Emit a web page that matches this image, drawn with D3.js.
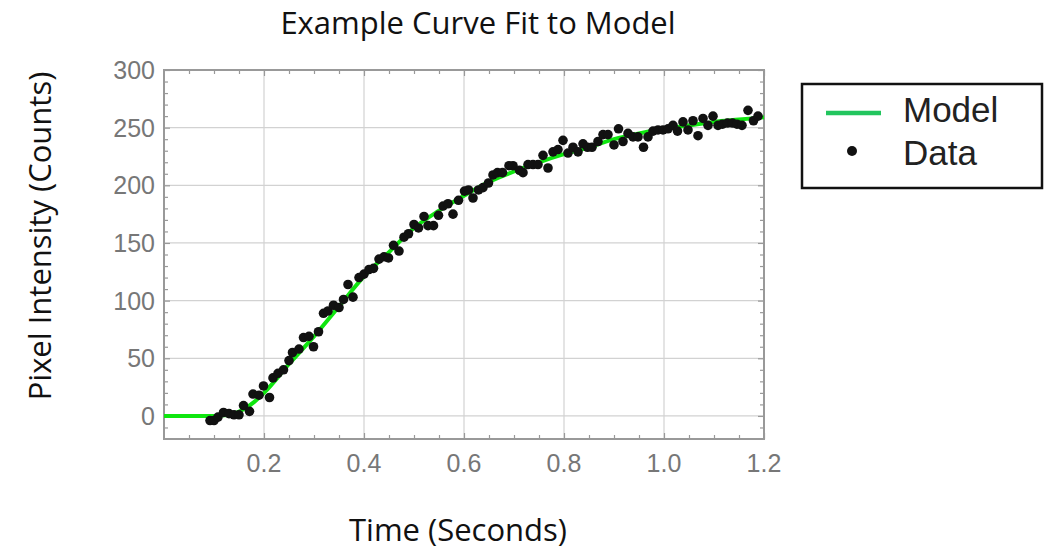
<!DOCTYPE html>
<html>
<head>
<meta charset="utf-8">
<script src="https://cdn.jsdelivr.net/npm/d3@7"></script>
<style>
  body { margin: 0; background: #fff; }
  #chart-container { width: 1048px; height: 550px; }
</style>
</head>
<body>
<div id="chart-container"></div>
<script>
// Data
const dataTimes = [
  0.092, 0.100, 0.108, 0.119, 0.130, 0.140, 0.150, 0.159, 0.171, 0.178,
  0.190, 0.199, 0.211, 0.218, 0.228, 0.239, 0.250, 0.257, 0.270, 0.279,
  0.290, 0.299, 0.309, 0.319, 0.328, 0.339, 0.350, 0.359, 0.368, 0.378,
  0.390, 0.400, 0.410, 0.419, 0.430, 0.440, 0.449, 0.459, 0.470, 0.480,
  0.489, 0.500, 0.509, 0.520, 0.528, 0.539, 0.549, 0.558, 0.568, 0.578,
  0.589, 0.601, 0.609, 0.618, 0.629, 0.638, 0.649, 0.658, 0.667, 0.677,
  0.690, 0.698, 0.711, 0.718, 0.728, 0.738, 0.748, 0.758, 0.768, 0.778,
  0.788, 0.798, 0.808, 0.818, 0.828, 0.838, 0.847, 0.856, 0.868, 0.878,
  0.888, 0.900, 0.909, 0.918, 0.928, 0.938, 0.948, 0.959, 0.968, 0.978,
  0.988, 0.998, 1.008, 1.018, 1.027, 1.038, 1.048, 1.058, 1.068, 1.078,
  1.088, 1.098, 1.108, 1.117, 1.127, 1.137, 1.146, 1.156, 1.168, 1.179,
  1.188
];
const dataIntensity = [
  -4, -4, -1, 3, 2, 1, 1, 9, 4, 19,
  18, 26, 16, 33, 37, 40, 48, 55, 58, 68,
  69, 60, 73, 89, 91, 96, 94, 101, 114, 103,
  120, 123, 127, 128, 136, 138, 137, 148, 143, 155,
  158, 166, 163, 173, 165, 165, 174, 182, 184, 175,
  187, 195, 196, 189, 196, 198, 202, 209, 211, 211,
  217, 217, 213, 211, 218, 218, 218, 226, 215, 229,
  231, 239, 228, 233, 229, 236, 233, 233, 238, 244,
  244, 235, 249, 238, 245, 242, 242, 233, 242, 247,
  248, 248, 249, 252, 247, 255, 248, 256, 243, 258,
  252, 260, 252, 253, 254, 254, 253, 252, 265, 256,
  260
];

// Model curve, read at intervals along the green line
const modelTimes = [
  0, 0.1, 0.12, 0.14, 0.16, 0.18, 0.2, 0.25, 0.3, 0.35, 0.4, 0.45, 0.5,
  0.55, 0.6, 0.65, 0.7, 0.75, 0.8, 0.85, 0.9, 0.95, 1.0, 1.05, 1.1, 1.15, 1.2
];
const modelValues = [
  0, 0, 0.5, 2, 6, 12, 20, 45, 69, 95, 121, 142, 163,
  178, 191, 203, 212, 220, 227, 233, 240, 245, 249, 252, 255, 257, 259
];

// Tick labels
const xTicks = [0.2, 0.4, 0.6, 0.8, 1.0, 1.2];
const yTicks = [0, 50, 100, 150, 200, 250, 300];
const legendLabels = ["Model", "Data"];

//******************************************************************************************** */
// Dimensions
const width = 1048;
const height = 550;
const plot = { left: 164, right: 764, top: 70, bottom: 439 };

const svg = d3
  .select("#chart-container")
  .append("svg")
  .attr("width", width)
  .attr("height", height);

// Scales
const xScale = d3.scaleLinear().domain([0, 1.2]).range([plot.left, plot.right]);
const yScale = d3.scaleLinear().domain([-20, 300]).range([plot.bottom, plot.top]);

const frameColor = "#999";
const labelColor = "#777";

//******************************************************************************************** */
// Grid lines
const gridX = xTicks.filter((t) => t < 1.2);
const gridY = yTicks.filter((t) => t < 300);

svg.append("g")
  .selectAll("line")
  .data(gridX)
  .enter()
  .append("line")
  .attr("x1", (d) => xScale(d))
  .attr("x2", (d) => xScale(d))
  .attr("y1", plot.top)
  .attr("y2", plot.bottom)
  .attr("stroke", "#d2d2d2")
  .attr("stroke-width", 1.2);

svg.append("g")
  .selectAll("line")
  .data(gridY)
  .enter()
  .append("line")
  .attr("x1", plot.left)
  .attr("x2", plot.right)
  .attr("y1", (d) => yScale(d))
  .attr("y2", (d) => yScale(d))
  .attr("stroke", "#d2d2d2")
  .attr("stroke-width", 1.2);

//******************************************************************************************** */
// Frame axes with inward ticks (major + minor)
const xMinor = d3.range(0.05, 1.2, 0.05).filter((t) => Math.abs(t / 0.2 - Math.round(t / 0.2)) > 1e-6);
const yMinor = d3.range(-10, 300, 10).filter((t) => t % 50 !== 0);

function frameAxis(axisFn, scale, ticks, size, transform) {
  svg.append("g")
    .attr("transform", transform)
    .call(axisFn(scale).tickValues(ticks).tickSize(size).tickFormat(""))
    .call((g) => g.select(".domain").remove())
    .call((g) => g.selectAll("line").attr("stroke", frameColor).attr("stroke-width", 1.2));
}

// bottom & top
frameAxis(d3.axisTop, xScale, xTicks, 6, `translate(0,${plot.bottom})`);
frameAxis(d3.axisTop, xScale, xMinor, 4, `translate(0,${plot.bottom})`);
frameAxis(d3.axisBottom, xScale, xTicks, 6, `translate(0,${plot.top})`);
frameAxis(d3.axisBottom, xScale, xMinor, 4, `translate(0,${plot.top})`);
// left & right
frameAxis(d3.axisRight, yScale, yTicks, 6, `translate(${plot.left},0)`);
frameAxis(d3.axisRight, yScale, yMinor, 4, `translate(${plot.left},0)`);
frameAxis(d3.axisLeft, yScale, yTicks, 6, `translate(${plot.right},0)`);
frameAxis(d3.axisLeft, yScale, yMinor, 4, `translate(${plot.right},0)`);

// Frame rectangle
svg.append("rect")
  .attr("x", plot.left)
  .attr("y", plot.top)
  .attr("width", plot.right - plot.left)
  .attr("height", plot.bottom - plot.top)
  .attr("fill", "none")
  .attr("stroke", frameColor)
  .attr("stroke-width", 2);

// Tick labels
svg.append("g")
  .selectAll("text")
  .data(xTicks)
  .enter()
  .append("text")
  .attr("x", (d) => xScale(d))
  .attr("y", plot.bottom + 33)
  .attr("text-anchor", "middle")
  .style("font-family", "'Liberation Sans', Arial, sans-serif")
  .style("font-size", "25px")
  .style("fill", labelColor)
  .text((d) => d.toFixed(1));

svg.append("g")
  .selectAll("text")
  .data(yTicks)
  .enter()
  .append("text")
  .attr("x", plot.left - 9)
  .attr("y", (d) => yScale(d) + 9)
  .attr("text-anchor", "end")
  .style("font-family", "'Liberation Sans', Arial, sans-serif")
  .style("font-size", "25px")
  .style("fill", labelColor)
  .text((d) => d);

//******************************************************************************************** */
// Model line
const modelLine = d3.line()
  .x((d) => xScale(d[0]))
  .y((d) => yScale(d[1]))
  .curve(d3.curveMonotoneX);

svg.append("path")
  .datum(d3.zip(modelTimes, modelValues))
  .attr("d", modelLine)
  .attr("fill", "none")
  .attr("stroke", "#0fe60f")
  .attr("stroke-width", 4);

// Data points
svg.append("g")
  .selectAll("circle")
  .data(d3.zip(dataTimes, dataIntensity))
  .enter()
  .append("circle")
  .attr("cx", (d) => xScale(d[0]))
  .attr("cy", (d) => yScale(d[1]))
  .attr("r", 4.8)
  .attr("fill", "#111");

//******************************************************************************************** */
// Titles
const titleFont = "'Open Sans', sans-serif";

svg.append("text")
  .attr("x", 478)
  .attr("y", 34)
  .attr("text-anchor", "middle")
  .style("font-family", titleFont)
  .style("font-size", "31px")
  .style("fill", "#111")
  .text("Example Curve Fit to Model");

svg.append("text")
  .attr("x", 458)
  .attr("y", 541)
  .attr("text-anchor", "middle")
  .style("font-family", titleFont)
  .style("font-size", "31px")
  .style("fill", "#111")
  .text("Time (Seconds)");

svg.append("text")
  .attr("transform", `translate(51,236) rotate(-90)`)
  .attr("text-anchor", "middle")
  .style("font-family", titleFont)
  .style("font-size", "31px")
  .style("fill", "#111")
  .text("Pixel Intensity (Counts)");

//******************************************************************************************** */
// Legend
const legend = svg.append("g").attr("transform", "translate(802,84)");

legend.append("rect")
  .attr("width", 240)
  .attr("height", 104)
  .attr("fill", "#fff")
  .attr("stroke", "#111")
  .attr("stroke-width", 2.5);

legend.append("line")
  .attr("x1", 24)
  .attr("x2", 79)
  .attr("y1", 29)
  .attr("y2", 29)
  .attr("stroke", "#22c55e")
  .attr("stroke-width", 4.5);

legend.append("circle")
  .attr("cx", 50)
  .attr("cy", 67)
  .attr("r", 5)
  .attr("fill", "#111");

legend.selectAll("text.legend-label")
  .data(legendLabels)
  .enter()
  .append("text")
  .attr("class", "legend-label")
  .attr("x", 101)
  .attr("y", (d, i) => 38 + i * 43)
  .style("font-family", "'Liberation Sans', Arial, sans-serif")
  .style("font-size", "35px")
  .style("fill", "#222")
  .text((d) => d);
</script>
</body>
</html>
